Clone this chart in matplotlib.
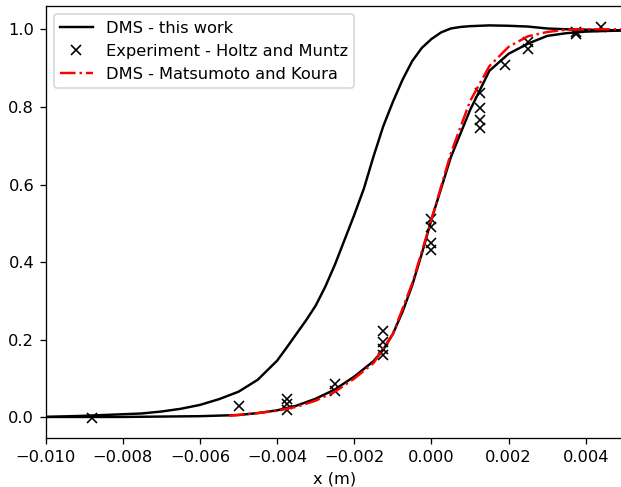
import matplotlib
matplotlib.use("Agg")
import matplotlib.pyplot as plt

# DMS - this work
work_x = [-0.010, -0.009, -0.008, -0.0075, -0.007, -0.0065, -0.006, -0.0055,
          -0.005, -0.0045, -0.004, -0.00375, -0.0035, -0.00325, -0.003,
          -0.00275, -0.0025, -0.00225, -0.002, -0.00175, -0.0015, -0.00125,
          -0.001, -0.00075, -0.0005, -0.00025, 0.0, 0.00025, 0.0005, 0.00075,
          0.001, 0.0015, 0.002, 0.0025, 0.003, 0.0035, 0.004, 0.0045, 0.005]
work_y = [0.001, 0.004, 0.008, 0.010, 0.015, 0.022, 0.032, 0.047,
          0.066, 0.097, 0.146, 0.180, 0.215, 0.250, 0.288,
          0.337, 0.394, 0.458, 0.522, 0.590, 0.673, 0.750,
          0.813, 0.870, 0.918, 0.952, 0.975, 0.992, 1.002, 1.006,
          1.008, 1.010, 1.009, 1.007, 1.002, 1.000, 0.999, 0.998, 0.997]

# DMS - this work (second profile, close to Matsumoto and Koura)
work2_x = [-0.010, -0.008, -0.006, -0.005, -0.0045, -0.004, -0.0035, -0.003,
           -0.0025, -0.002, -0.0015, -0.00125, -0.001, -0.00075, -0.0005,
           -0.00025, 0.0, 0.0005, 0.001, 0.0015, 0.002, 0.0025, 0.003,
           0.0035, 0.004, 0.005]
work2_y = [0.001, 0.001, 0.003, 0.006, 0.011, 0.018, 0.030, 0.048,
           0.072, 0.105, 0.145, 0.174, 0.215, 0.272, 0.340,
           0.422, 0.510, 0.670, 0.792, 0.893, 0.937, 0.963, 0.983,
           0.990, 0.994, 0.997]

# Experiment - Holtz and Muntz
exp_x = [-0.0088, -0.005, -0.00375, -0.00375, -0.00375, -0.0025, -0.0025,
         -0.00125, -0.00125, -0.00125, -0.00125, 0.0, 0.0, 0.0, 0.0,
         0.00125, 0.00125, 0.00125, 0.00125, 0.0019, 0.0025, 0.0025,
         0.00375, 0.00375, 0.0044]
exp_y = [-0.002, 0.030, 0.047, 0.034, 0.019, 0.085, 0.067,
         0.222, 0.195, 0.175, 0.160, 0.512, 0.490, 0.450, 0.432,
         0.835, 0.797, 0.767, 0.745, 0.908, 0.966, 0.950,
         0.993, 0.987, 1.007]

# DMS - Matsumoto and Koura
mk_x = [-0.00525, -0.0045, -0.004, -0.0035, -0.003, -0.0025, -0.002, -0.0015,
        -0.001, -0.0005, 0.0, 0.0005, 0.001, 0.0015, 0.002, 0.0025, 0.003,
        0.0035, 0.004, 0.005]
mk_y = [0.004, 0.011, 0.017, 0.027, 0.043, 0.066, 0.100, 0.140,
        0.215, 0.345, 0.510, 0.680, 0.815, 0.905, 0.955, 0.982, 0.993,
        0.999, 1.000, 1.000]

dpi = 117
fig = plt.figure(figsize=(621 / dpi, 487 / dpi), dpi=dpi)
ax = fig.add_axes([0.0733, 0.100, 0.9323, 0.8877])

ax.plot(work_x, work_y, color="black", label="DMS - this work")
ax.plot(exp_x, exp_y, "x", color="black", label="Experiment - Holtz and Muntz")
ax.plot(work2_x, work2_y, color="black")
ax.plot(mk_x, mk_y, color="red", linestyle="-.", label="DMS - Matsumoto and Koura")

ax.set_xlim(-0.010, 0.005)
ax.set_ylim(-0.054, 1.060)
ax.set_xticks([-0.010, -0.008, -0.006, -0.004, -0.002, 0.000, 0.002, 0.004])
ax.set_xticklabels(["\u22120.010", "\u22120.008", "\u22120.006", "\u22120.004",
                    "\u22120.002", "0.000", "0.002", "0.004"])
ax.set_xlabel("x (m)")
ax.legend(loc="upper left")

fig.savefig("out.png", dpi=dpi)
